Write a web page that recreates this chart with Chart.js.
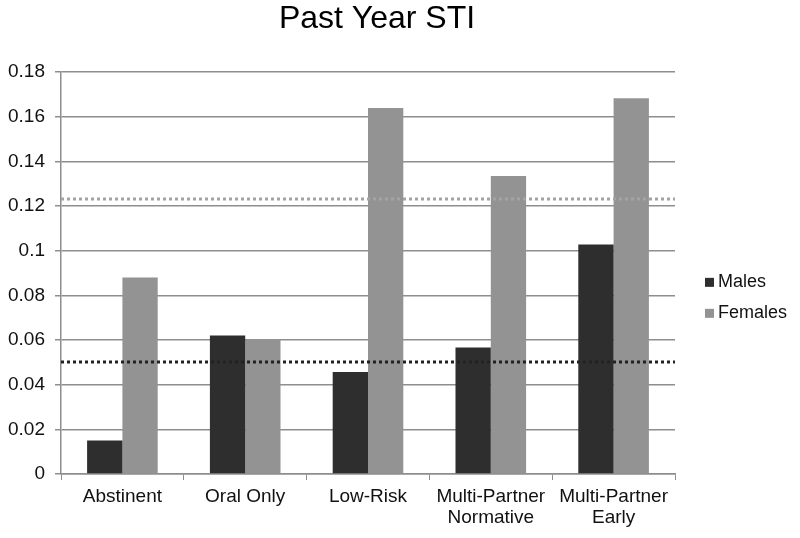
<!DOCTYPE html>
<html>
<head>
<meta charset="utf-8">
<script src="https://cdn.jsdelivr.net/npm/chart.js@4/dist/chart.umd.min.js"></script>
<style>
  html, body { margin: 0; padding: 0; background: #fff; }
  #wrap { width: 800px; height: 538px; }
</style>
</head>
<body>
<div id="wrap"><canvas id="sti-chart" width="800" height="538"></canvas></div>
<script>
// chart data
var categories = ['Abstinent', 'Oral Only', 'Low-Risk', ['Multi-Partner', 'Normative'], ['Multi-Partner', 'Early']];
var males = [0.015, 0.062, 0.0457, 0.0566, 0.1028];
var females = [0.088, 0.0605, 0.1639, 0.1334, 0.1683];
var yTickLabels = ['0', '0.02', '0.04', '0.06', '0.08', '0.1', '0.12', '0.14', '0.16', '0.18'];
var chartTitle = 'Past Year STI';
// dotted reference lines (overall rates)
var refValues = [0.0503, 0.1231];
var refColors = ['#222222', '#a3a3a3'];

document.addEventListener('DOMContentLoaded', function() {
    var ctx = document.getElementById('sti-chart').getContext('2d');

    // draws the dotted horizontal lines across the plot area
    var refLines = {
        id: 'refLines',
        afterDatasetsDraw: function(chart) {
            var c = chart.ctx;
            var area = chart.chartArea;
            var y = chart.scales.y;
            c.save();
            c.lineWidth = 3;
            c.setLineDash([3, 3]);
            for (var i = 0; i < refValues.length; i++) {
                var py = Math.round(y.getPixelForValue(refValues[i]));
                c.strokeStyle = refColors[i];
                c.beginPath();
                c.moveTo(area.left, py);
                c.lineTo(area.right, py);
                c.stroke();
            }
            c.restore();
        }
    };

    // title and legend drawn by hand so the title stays centred on the whole image
    var titleAndLegend = {
        id: 'titleAndLegend',
        afterDraw: function(chart) {
            var c = chart.ctx;
            var area = chart.chartArea;
            c.save();
            c.fillStyle = '#000';
            c.font = '32px "Liberation Sans", Arial, sans-serif';
            c.textAlign = 'center';
            c.textBaseline = 'middle';
            c.fillText(chartTitle, area.left + (area.right - area.left) / 2 + 9, 19);

            var x = area.right + 30;
            var y0 = area.top + (area.bottom - area.top) * 0.522;
            c.font = '18px "Liberation Sans", Arial, sans-serif';
            c.textAlign = 'left';
            chart.data.datasets.forEach(function(ds, i) {
                var y = y0 + i * 31;
                c.fillStyle = ds.backgroundColor;
                c.fillRect(x, y - 4, 9, 9);
                c.fillStyle = '#111';
                c.fillText(ds.label, x + 13, y);
            });
            c.restore();
        }
    };

    new Chart(ctx, {
        type: 'bar',
        data: {
            labels: categories,
            datasets: [{
                label: 'Males',
                data: males,
                backgroundColor: '#2e2e2e',
                categoryPercentage: 0.575,
                barPercentage: 1.0
            }, {
                label: 'Females',
                data: females,
                backgroundColor: '#939393',
                categoryPercentage: 0.575,
                barPercentage: 1.0
            }]
        },
        options: {
            responsive: false,
            animation: false,
            layout: {
                padding: { left: 0, right: 125, top: 72, bottom: 0 }
            },
            plugins: {
                title: { display: false },
                legend: { display: false },
                tooltip: { enabled: false }
            },
            scales: {
                x: {
                    offset: true,
                    grid: {
                        offset: true,
                        drawOnChartArea: false,
                        color: '#8e8e8e',
                        tickLength: 6
                    },
                    border: { color: '#8e8e8e', width: 1.5 },
                    ticks: {
                        color: '#111',
                        font: { family: 'Liberation Sans, Arial, sans-serif', size: 19, lineHeight: 1.13 },
                        maxRotation: 0,
                        autoSkip: false,
                        padding: 6
                    },
                    afterFit: function(scale) { scale.height = 64; }
                },
                y: {
                    min: 0,
                    max: 0.18,
                    ticks: {
                        stepSize: 0.02,
                        color: '#111',
                        font: { family: 'Liberation Sans, Arial, sans-serif', size: 19 },
                        padding: 10,
                        callback: function(value, index) {
                            return yTickLabels[index];
                        }
                    },
                    grid: {
                        color: '#8e8e8e',
                        lineWidth: 1.5,
                        tickLength: 6
                    },
                    border: { color: '#8e8e8e', width: 1.5 },
                    afterFit: function(scale) { scale.width = 61; }
                }
            }
        },
        plugins: [refLines, titleAndLegend]
    });
});
</script>
</body>
</html>
